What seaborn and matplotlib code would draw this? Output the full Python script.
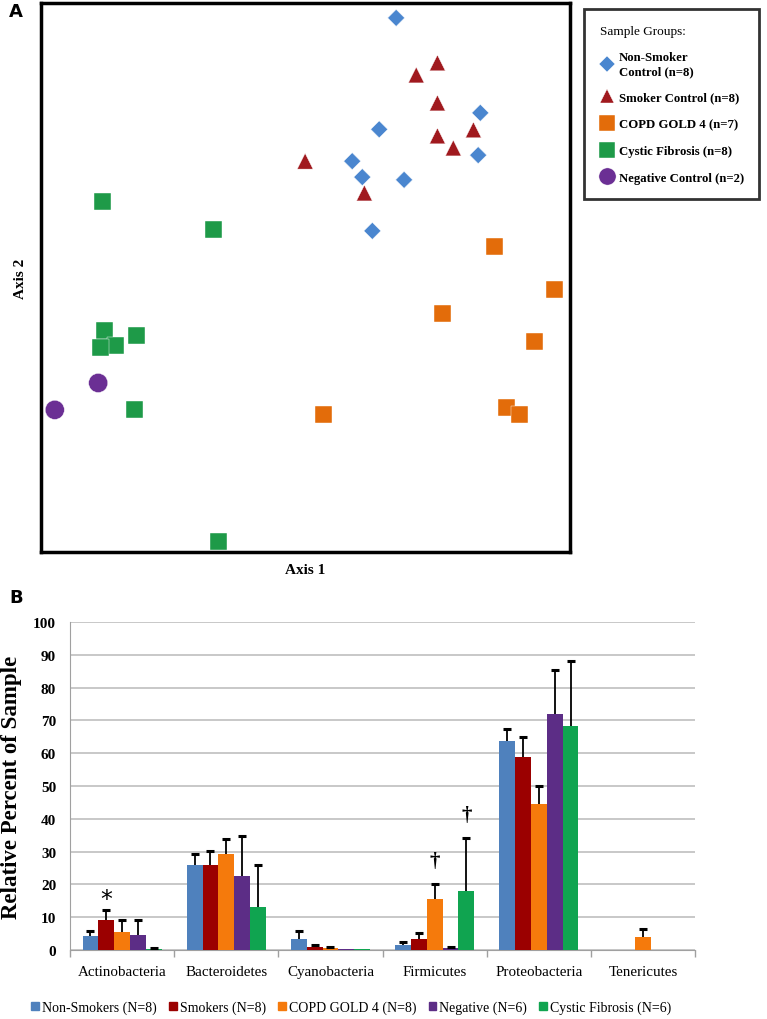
import matplotlib
matplotlib.use("Agg")
import matplotlib.pyplot as plt
from matplotlib.lines import Line2D
from matplotlib.patches import Patch
import seaborn as sns
import pandas as pd
import numpy as np

# ---- Panel A: ordination scores (axis units 0-100)
groups = ["Non-Smoker\nControl (n=8)", "Smoker Control (n=8)", "COPD GOLD 4 (n=7)",
          "Cystic Fibrosis (n=8)", "Negative Control (n=2)"]
nonsmoker_x = [67.1, 83.0, 63.9, 58.8, 60.7, 68.6, 82.6, 62.6]
nonsmoker_y = [97.3, 80.0, 77.0, 71.2, 68.3, 67.8, 72.3, 58.5]
smoker_x = [70.9, 74.9, 74.9, 49.9, 74.9, 77.9, 81.7, 61.1]
smoker_y = [86.9, 89.1, 81.8, 71.2, 75.8, 73.6, 76.9, 65.4]
copd_x = [85.6, 97.0, 75.8, 93.2, 87.9, 90.4, 53.3]
copd_y = [55.6, 47.9, 43.5, 38.3, 26.4, 25.1, 25.0]
cf_x = [11.7, 32.5, 11.9, 14.0, 11.2, 18.1, 17.6, 33.5]
cf_y = [63.9, 58.8, 40.4, 37.7, 37.3, 39.5, 25.9, 2.0]
neg_x = [10.8, 2.6]
neg_y = [30.8, 25.9]

# ---- Panel B: relative abundance (%) and upper error
phyla = ["Actinobacteria", "Bacteroidetes", "Cyanobacteria", "Firmicutes",
         "Proteobacteria", "Tenericutes"]
series = ["Non-Smokers (N=8)", "Smokers (N=8)", "COPD GOLD 4 (N=8)",
          "Negative (N=6)", "Cystic Fibrosis (N=6)"]
nonsmokers = [4.2, 26.0, 3.5, 1.5, 63.7, 0.15]
smokers = [9.2, 26.0, 0.9, 3.3, 59.0, 0.15]
copd = [5.5, 29.3, 0.6, 15.5, 44.6, 4.1]
negative = [4.7, 22.6, 0.2, 0.5, 72.1, 0.15]
cystic = [0.3, 13.1, 0.2, 18.1, 68.4, 0.15]
nonsmokers_err = [1.5, 3.2, 2.2, 0.9, 3.7, 0.0]
smokers_err = [3.0, 4.2, 0.7, 1.8, 6.0, 0.0]
copd_err = [3.7, 4.5, 0.3, 4.5, 5.5, 2.2]
negative_err = [4.5, 12.2, 0.0, 0.3, 13.4, 0.0]
cystic_err = [0.2, 12.8, 0.0, 16.2, 19.8, 0.0]

serif = "Liberation Serif"
plt.rcParams["font.family"] = serif

fig = plt.figure(figsize=(7.67, 10.2), dpi=100)

# ================= Panel A =================
ax1 = fig.add_axes([0.0535, 0.4578, 0.690, 0.5382])
sc_colors = ["#4A86CF", "#A0191E", "#E36C0A", "#1E9A48", "#6B2F94"]
sc_markers = ["D", "^", "s", "s", "o"]
sc_sizes = [75, 130, 150, 150, 190]
xs = [nonsmoker_x, smoker_x, copd_x, cf_x, neg_x]
ys = [nonsmoker_y, smoker_y, copd_y, cf_y, neg_y]
rows = []
for g, x, y in zip(groups, xs, ys):
    for a, b in zip(x, y):
        rows.append({"group": g, "x": a, "y": b})
dfa = pd.DataFrame(rows)
sns.scatterplot(data=dfa, x="x", y="y", hue="group", style="group", size="group",
                hue_order=groups, style_order=groups, size_order=groups,
                palette=dict(zip(groups, sc_colors)),
                markers=dict(zip(groups, sc_markers)),
                sizes=dict(zip(groups, sc_sizes)),
                linewidth=0.3, edgecolor="white", legend=False, ax=ax1)
ax1.set_xlim(0, 100)
ax1.set_ylim(0, 100)
ax1.set_xticks([])
ax1.set_yticks([])
for s in ax1.spines.values():
    s.set_linewidth(2.5)
    s.set_color("black")
ax1.set_xlabel("Axis 1", fontsize=11, fontweight="bold", labelpad=8)
ax1.set_ylabel("Axis 2", fontsize=11, fontweight="bold", labelpad=10)

handles = [Line2D([], [], marker=m, color=c, linestyle="none",
                  markersize=np.sqrt(sz) * 0.9, markeredgecolor="white", markeredgewidth=0.3)
           for m, c, sz in zip(sc_markers, sc_colors, sc_sizes)]
leg = fig.legend(handles, groups, loc="upper left", bbox_to_anchor=(0.762, 0.990),
                 title="Sample Groups:", frameon=True, fancybox=False,
                 prop={"family": serif, "size": 9.2, "weight": "bold"},
                 title_fontproperties={"family": serif, "size": 9.5},
                 handletextpad=0.3, labelspacing=1.15, borderpad=1.2,
                 handlelength=1.2, borderaxespad=0)
leg._legend_box.align = "left"
leg.get_frame().set_edgecolor("black")
leg.get_frame().set_linewidth(2)

fig.text(0.012, 0.988, "A", fontsize=13, fontweight="bold", family="DejaVu Sans",
         va="center", ha="left")

# ================= Panel B =================
ax2 = fig.add_axes([0.0913, 0.0676, 0.815, 0.3216])
bar_colors = ["#4F81BD", "#9B0000", "#F57A0C", "#5C2D86", "#10A450"]
vals = [nonsmokers, smokers, copd, negative, cystic]
errs = [nonsmokers_err, smokers_err, copd_err, negative_err, cystic_err]
rows = []
for s, v in zip(series, vals):
    for p, val in zip(phyla, v):
        rows.append({"phylum": p, "series": s, "value": val})
dfb = pd.DataFrame(rows)
sns.barplot(data=dfb, x="phylum", y="value", hue="series", order=phyla,
            hue_order=series, palette=dict(zip(series, bar_colors)),
            errorbar=None, width=0.76, saturation=1, legend=False, ax=ax2,
            zorder=3)

# upper-only error bars with a cap at the top
for cont, v, e in zip(ax2.containers, vals, errs):
    for bar, val, er in zip(cont, v, e):
        if er > 0.05:
            cx = bar.get_x() + bar.get_width() / 2
            ax2.vlines(cx, val, val + er, color="black", lw=1.3, zorder=4)
            ax2.plot(cx, val + er, marker="_", color="black", markersize=6,
                     markeredgewidth=2.2, zorder=4)

# significance symbols
ax2.text(ax2.containers[1][0].get_x() + ax2.containers[1][0].get_width() / 2, 15.5, "*",
         ha="center", va="center", fontsize=17, family="DejaVu Sans")
for k in (2, 4):
    b = ax2.containers[k][3]
    top = vals[k][3] + errs[k][3]
    ax2.text(b.get_x() + b.get_width() / 2, top + 7.0, "\u2020", ha="center",
             va="center", fontsize=15, fontweight="bold")

ax2.set_ylim(0, 100)
ax2.set_xlim(-0.5, 5.5)
ax2.set_yticks(range(0, 101, 10))
ax2.set_yticklabels([str(t) for t in range(0, 101, 10)], fontsize=11, fontweight="bold")
ax2.tick_params(axis="y", length=0, pad=10)
ax2.yaxis.grid(True, color="#C4C4C4", lw=1.3, zorder=0)
ax2.set_axisbelow(True)
ax2.set_xticks(range(len(phyla)))
ax2.set_xticklabels(phyla, fontsize=10.8)
ax2.tick_params(axis="x", length=0, pad=11)
ax2.set_xticks(np.arange(-0.5, 6.0, 1.0), minor=True)
ax2.tick_params(axis="x", which="minor", length=5, color="#A0A0A0", width=1)
for side in ("top", "right"):
    ax2.spines[side].set_visible(False)
ax2.spines["left"].set_color("#A0A0A0")
ax2.spines["bottom"].set_color("#A0A0A0")
ax2.set_xlabel("")
ax2.set_ylabel("Relative Percent of Sample", fontsize=16.5, fontweight="bold", labelpad=8)

lh = [Patch(color=c) for c in bar_colors]
fig.legend(lh, series, loc="center", bbox_to_anchor=(0.458, 0.0115), ncol=5,
           frameon=False, fontsize=10, handlelength=0.55, handleheight=0.55,
           handletextpad=0.2, columnspacing=0.9)

fig.text(0.012, 0.414, "B", fontsize=13, fontweight="bold", family="DejaVu Sans",
         va="center", ha="left")

fig.savefig("out.png", dpi=100, facecolor="white")
